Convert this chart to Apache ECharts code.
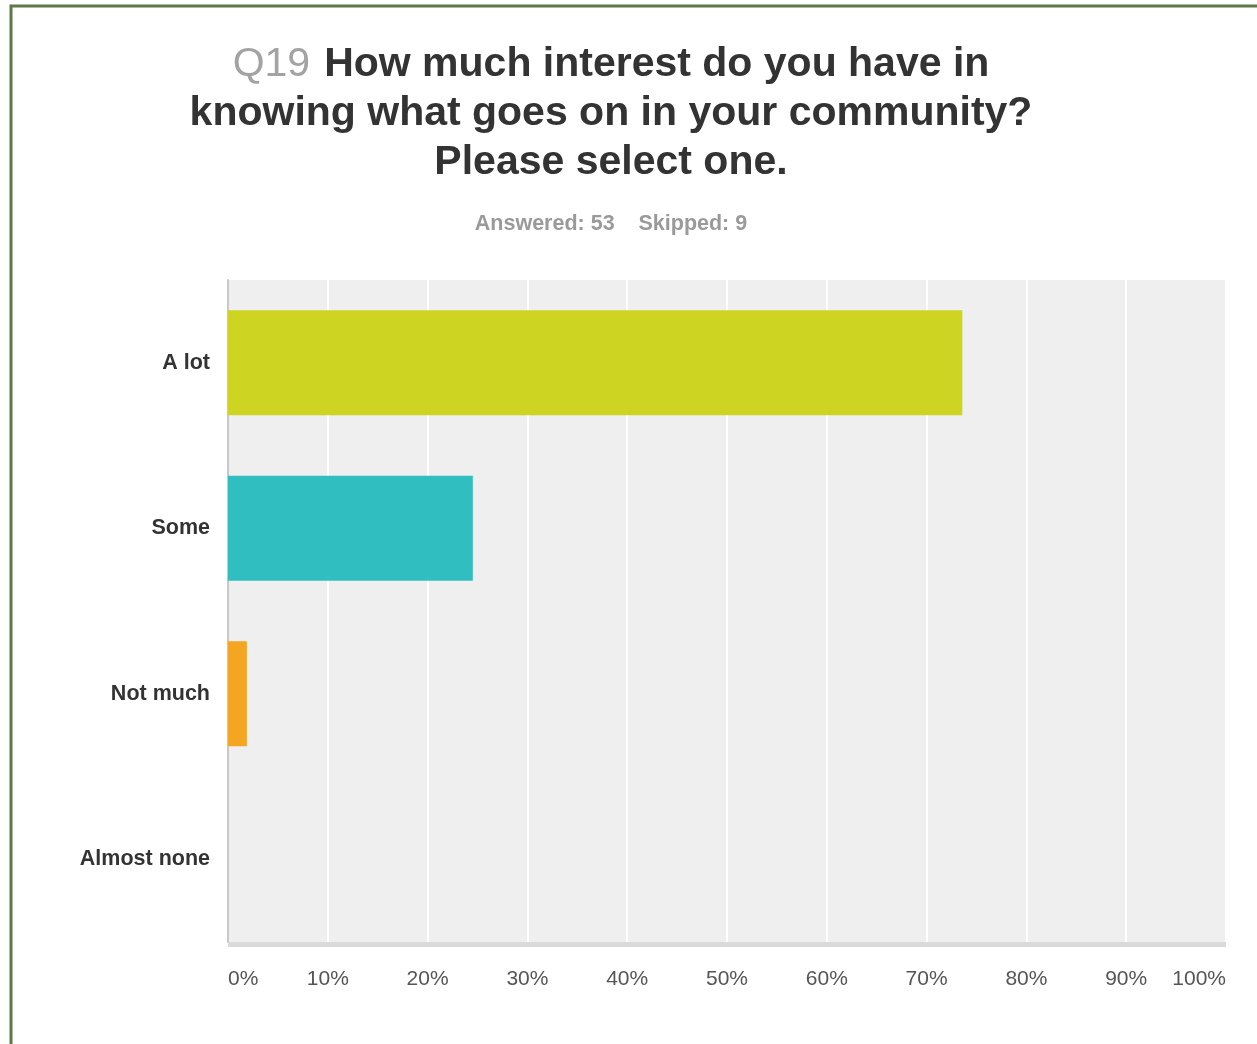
<!DOCTYPE html>
<html>
<head>
<meta charset="utf-8">
<script src="https://cdn.jsdelivr.net/npm/echarts@6/dist/echarts.min.js"></script>
<style>
html,body{margin:0;padding:0;background:#fff;}
#chart{width:1257px;height:1044px;}
</style>
</head>
<body>
<div id="chart"></div>
<script>
const categories = ['A lot', 'Some', 'Not much', 'Almost none'];
const values = [73.58, 24.53, 1.89, 0];
const barColors = ['#cdd421', '#30bec0', '#f4a622', '#999999'];
const tickLabels = ['0%', '10%', '20%', '30%', '40%', '50%', '60%', '70%', '80%', '90%', '100%'];
const questionId = 'Q19';
const titleLines = ['How much interest do you have in', 'knowing what goes on in your community?', 'Please select one.'];
const answered = 53;
const skipped = 9;

const FONT = '"Liberation Sans", Arial, Helvetica, sans-serif';
const chart = echarts.init(document.getElementById('chart'), null, {renderer: 'canvas'});

const titleText = '{q|' + questionId + '}{sp| }{b|' + titleLines[0] + '}\n{b|' + titleLines[1] + '}\n{b|' + titleLines[2] + '}';

chart.setOption({
  backgroundColor: '#ffffff',
  animation: false,
  graphic: [{
    type: 'rect',
    shape: {x: 11, y: 6, width: 1300, height: 1100},
    style: {fill: 'none', stroke: '#5b7a47', lineWidth: 3},
    silent: true,
    z: 0
  }],
  title: [{
    text: titleText,
    left: 606,
    top: 35,
    textAlign: 'center',
    textStyle: {
      fontFamily: FONT,
      lineHeight: 49,
      rich: {
        q: {fontFamily: FONT, fontSize: 41, color: '#a3a3a3', fontWeight: 'normal', lineHeight: 49},
        sp: {fontFamily: FONT, fontSize: 41, lineHeight: 49, width: 14},
        b: {fontFamily: FONT, fontSize: 41, color: '#333333', fontWeight: 'bold', lineHeight: 49}
      }
    }
  }, {
    text: 'Answered: ' + answered + '    Skipped: ' + skipped,
    left: 606,
    top: 208,
    textAlign: 'center',
    textStyle: {fontFamily: FONT, fontSize: 21.5, color: '#9a9a9a', fontWeight: 'bold'}
  }],
  grid: {
    left: 228, right: 31, top: 280, bottom: 102,
    show: true, backgroundColor: '#efefef', borderWidth: 0
  },
  xAxis: {
    type: 'value',
    min: 0, max: 100, interval: 10,
    axisLine: {show: false},
    axisTick: {show: false},
    splitLine: {show: true, lineStyle: {color: '#ffffff', width: 2}},
    axisLabel: {
      margin: 27,
      fontFamily: FONT, fontSize: 21, color: '#555555',
      alignMinLabel: 'left', alignMaxLabel: 'right',
      formatter: function (v) { return tickLabels[Math.round(v / 10)]; }
    }
  },
  yAxis: {
    type: 'category',
    data: categories,
    inverse: true,
    axisLine: {show: true, lineStyle: {color: '#c8c8c8', width: 2}},
    axisTick: {show: false},
    splitLine: {show: false},
    axisLabel: {margin: 18, fontFamily: FONT, fontSize: 21.5, fontWeight: 'bold', color: '#333333'}
  },
  series: [{
    type: 'bar',
    data: values.map((v, i) => ({value: v, itemStyle: {color: barColors[i]}})),
    barWidth: '63.5%',
    silent: true,
    z: 3
  }, {
    type: 'line',
    data: [],
    markLine: {
      silent: true, symbol: 'none', label: {show: false},
      lineStyle: {color: '#dadada', width: 5, type: 'solid'},
      data: [[{coord: [0, 'Almost none'], y: 944}, {coord: [100, 'Almost none'], y: 944}]]
    }
  }]
});
</script>
</body>
</html>
